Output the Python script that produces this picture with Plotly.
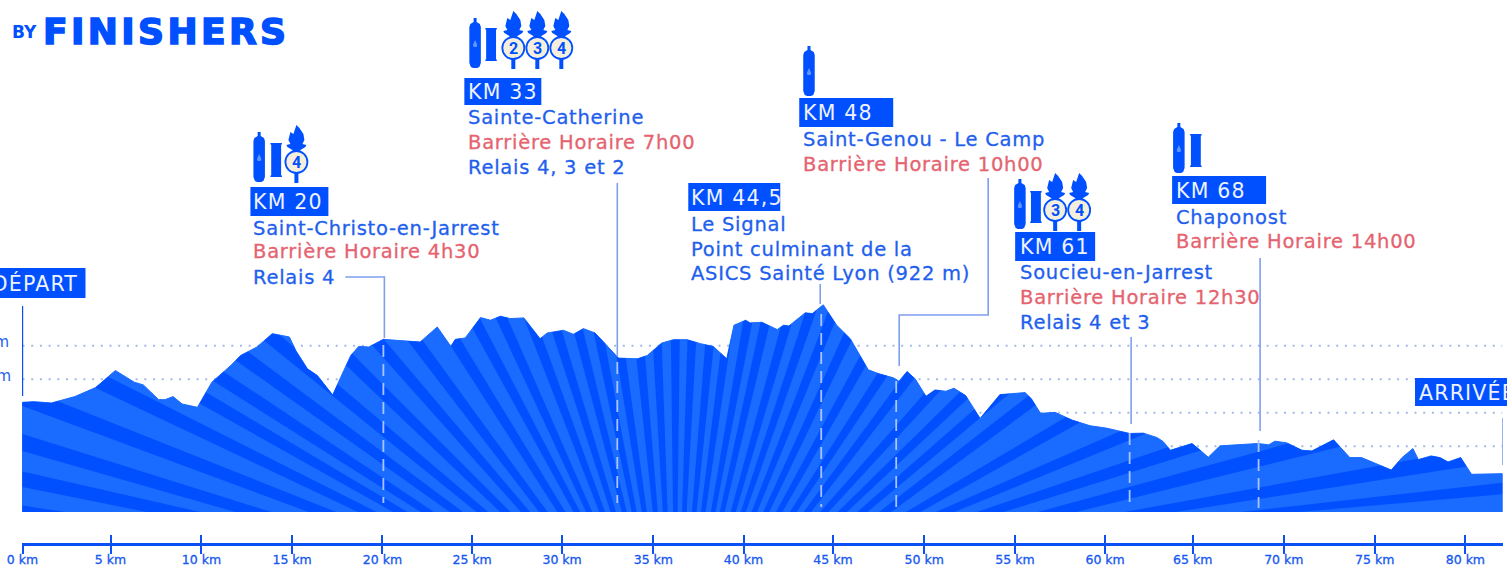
import numpy as np
import plotly.graph_objects as go

# ---------- data ----------
km = [0, .63, 1.6, 2.9, 4.05, 4.4, 5.15, 6.2, 6.7, 7.55, 7.9, 8.35, 8.85, 9.7, 10.5, 11.55, 12.1, 13.0, 13.85, 14.8,
      15.15, 15.8, 16.35, 17.2, 17.65, 18.2, 18.65, 19.2, 20.0, 20.9, 22.05, 23.0, 23.75, 24.0, 24.55, 25.4, 25.95,
      26.5, 27.05, 27.8, 28.7, 29.1, 30.0, 30.55, 31.1, 31.75, 32.4, 33.05, 34.1, 34.65, 35.45, 36.1, 36.85, 37.6,
      38.3, 39.05, 39.45, 40.1, 40.35, 41.0, 41.85, 42.2, 42.5, 43.4, 43.8, 44.4, 45.15, 45.9, 46.9, 47.5, 48.3,
      48.6, 49.05, 49.5, 50.1, 50.6, 51.2, 51.65, 52.3, 53.1, 54.2, 55.6, 55.95, 56.45, 57.25, 58.2, 59.2, 60.1,
      61.4, 62.15, 62.9, 63.25, 63.65, 64.85, 65.35, 65.75, 66.4, 68.5, 69.1, 69.45, 70.1, 70.95, 71.5, 72.7, 73.6,
      74.25, 75.9, 76.5, 77.1, 77.4, 78.1, 78.6, 79.05, 79.75, 80.35, 82.05]
elevation = [631, 633, 629, 648, 675, 691, 726, 691, 683, 639, 639, 648, 626, 616, 691, 741, 771, 796, 836, 826,
             786, 731, 711, 653, 706, 771, 798, 796, 819, 816, 811, 856, 798, 819, 823, 884, 876,
             888, 881, 883, 821, 838, 846, 834, 851, 838, 801, 763, 761, 771, 808, 818, 818, 806,
             798, 761, 861, 876, 868, 870, 848, 861, 859, 898, 896, 922, 861, 821, 728, 716, 704,
             694, 723, 701, 649, 668, 664, 673, 651, 583, 654, 660, 641, 598, 601, 578, 561, 554,
             538, 539, 526, 514, 488, 508, 486, 467, 501, 508, 504, 515, 510, 488, 486, 519, 466,
             466, 429, 466, 493, 460, 471, 466, 453, 466, 416, 418]
tick_km = [0, 4.88, 9.92, 14.95, 19.96, 24.93, 29.92, 34.98, 39.98, 44.94, 50, 55.03, 60.03, 64.89, 69.94, 74.98, 80.01]
tick_labels = [f"{k} km" for k in range(0, 85, 5)]
levels = [800, 700, 600, 500]
level_labels = ["800 m", "700 m", "600 m", "500 m"]

# dark rays of the background fan: foot on the baseline (km), lean from vertical (deg)
ray_foot = [.44, 8.37, 12.8, 16.63, 19.12, 20.95, 22.45, 24.06, 25.5, 26.77, 27.89, 28.88, 29.88, 30.74, 31.42, 32.14,
            32.76, 33.37, 33.92, 34.48, 35.09, 35.64, 36.2, 36.7, 37.25, 37.75, 38.3, 38.8, 39.41, 39.97, 40.58, 41.24,
            41.96, 42.74, 43.52, 44.46, 45.46, 46.57, 47.84, 49.39, 51.16, 53.66, 57.37, 62.53, 69.2]
ray_lean = [82, 77.9, 73.3, 69, 64, 60, 57, 54, 50.4, 45.7, 41, 36.8, 32, 28.1, 24.3, 20.5, 17.3, 14.2,
            11.3, 8.5, 5.4, 2.7, 0, -2.5, -5.2, -7.7, -10.3, -12.8, -15.8, -18.6, -21.6, -25, -29, -33,
            -37, -42, -46.2, -49.5, -52.8, -60, -67, -72, -75.4, -80.4, -84.3]

# ---------- picture scales ----------
W, H = 1507, 566
PX_KM, PX_M = 18.04, 0.335
def X(px): return (px - 22) / PX_KM
def Y(py): return 800 + (345.7 - py) / PX_M
L, R, T, B = 21.5, 1503, 0, 543
def PXP(px): return (px - L) / (R - L)
def PYP(py): return 1 - (py - T) / (B - T)
BASE = Y(512)

BLUE, DARK, LIGHT, TEXT, RED, PALE = "#0a50f5", "#0050ff", "#1a6bff", "#1f5fee", "#e5636f", "#7f9fee"
FONT = "DejaVu Sans"

# ---------- fan clipped to the profile ----------
poly = list(zip([km[0]] + km + [km[-1]], [BASE] + elevation + [BASE]))

def clip(points, f):
    out = []
    for i in range(len(points)):
        a, b = points[i], points[(i + 1) % len(points)]
        fa, fb = f(*a), f(*b)
        if fa >= 0:
            out.append(a)
        if (fa >= 0) != (fb >= 0):
            t = fa / (fa - fb)
            out.append((a[0] + t * (b[0] - a[0]), a[1] + t * (b[1] - a[1])))
    return out

fig = go.Figure()

for lv in levels:
    fig.add_trace(go.Scatter(x=[km[0], km[-1]], y=[lv, lv], mode="lines", hoverinfo="skip", showlegend=False,
                             line=dict(color="#a4b9e8", width=2, dash="2px,6.7px")))

fig.add_trace(go.Scatter(x=[p[0] for p in poly], y=[p[1] for p in poly], fill="toself", fillcolor=LIGHT,
                         mode="lines", line=dict(color=LIGHT, width=1), showlegend=False, name="Profil"))

feet = np.array(ray_foot)
gaps = np.gradient(feet)
k = PX_M / PX_KM
for foot, lean, gap in zip(ray_foot, ray_lean, gaps):
    half = 0.24 * gap
    tl, tr = np.tan(np.radians(lean + .7)), np.tan(np.radians(lean - .7))
    left = lambda x, y, f=foot - half, t=tl: x - (f - t * (y - BASE) * k)
    right = lambda x, y, f=foot + half, t=tr: (f - t * (y - BASE) * k) - x
    piece = clip(clip(poly, left), right)
    if len(piece) > 2:
        fig.add_trace(go.Scatter(x=[p[0] for p in piece] + [piece[0][0]], y=[p[1] for p in piece] + [piece[0][1]],
                                 fill="toself", fillcolor=DARK, mode="lines", line=dict(width=0, color=DARK),
                                 hoverinfo="skip", showlegend=False))

# invisible partner so the second axis (upper half of the ticks + labels) is drawn
fig.add_trace(go.Scatter(x=[0], y=[BASE], xaxis="x2", mode="markers", marker=dict(opacity=0), hoverinfo="skip",
                         showlegend=False))

shapes, annots = [], []

def line(pts, color=PALE, width=1.6, dash=None):
    d = "M" + " L".join(f"{X(a)},{Y(b)}" for a, b in pts)
    shapes.append(dict(type="path", path=d, xref="x", yref="y", line=dict(color=color, width=width, dash=dash)))

def text(px, py, s, color=TEXT, size=19.5, anchor="left", weight=400, family=FONT):
    annots.append(dict(x=PXP(px - (1 if anchor == "left" else 0)), y=PYP(py), xref="paper", yref="paper", text=s,
                       showarrow=False, xanchor=anchor, align=anchor, yanchor="middle",
                       font=dict(color=color, size=size, family=family, weight=weight), borderpad=0))

def box(x0, x1, y0, y1, s, tx, anchor="left"):
    shapes.append(dict(type="rect", xref="paper", yref="paper", x0=PXP(x0), x1=PXP(x1), y0=PYP(y1), y1=PYP(y0),
                       fillcolor=DARK, line=dict(width=0)))
    text(tx, (y0 + y1) / 2 + .5, s, color="#eef3ff", size=20.5, anchor=anchor)

def fillpath(pts, color=DARK):
    d = "M" + " L".join(f"{X(a)},{Y(b)}" for a, b in pts) + " Z"
    shapes.append(dict(type="path", path=d, xref="x", yref="y", fillcolor=color, line=dict(width=0)))

def bottle(x0, ytop):
    w, c = 11.5, x0 + 5.75
    fillpath([(c - 1.5, ytop), (c + 1.5, ytop), (c + 1.5, ytop + 4), (x0 + w - 1, ytop + 6), (x0 + w, ytop + 9),
              (x0 + w, ytop + 45), (x0 + w - 1.5, ytop + 49), (c + 2, ytop + 50), (c - 2, ytop + 50), (x0 + 1.5, ytop + 49),
              (x0, ytop + 45), (x0, ytop + 9), (x0 + 1, ytop + 6), (c - 1.5, ytop + 4)])
    fillpath([(c, ytop + 22), (c + 2.2, ytop + 27), (c + 1.5, ytop + 29), (c - 1.5, ytop + 29), (c - 2.2, ytop + 27)], "#5f95ff")

def filt(x0, y0, y1):
    fillpath([(x0, y0), (x0 + 11.5, y0), (x0 + 11.5, y0 + 1.5), (x0 + 10.7, y0 + 1.5), (x0 + 10.7, y1 - 1.5), (x0 + 11.5, y1 - 1.5),
              (x0 + 11.5, y1), (x0, y1), (x0, y1 - 1.5), (x0 + .8, y1 - 1.5), (x0 + .8, y0 + 1.5), (x0, y0 + 1.5)])

def torch(cx, ytop, n, r=11):
    fillpath([(cx, ytop), (cx + 3, ytop + 3), (cx + 7, ytop + 9), (cx + 8, ytop + 15), (cx + 6, ytop + 19),
              (cx + 10, ytop + 20), (cx + 9, ytop + 22), (cx + 4, ytop + 25), (cx + 2.5, ytop + 28),
              (cx - 2.5, ytop + 28), (cx - 4, ytop + 25), (cx - 9, ytop + 22), (cx - 10, ytop + 20), (cx - 6, ytop + 19),
              (cx - 8, ytop + 15), (cx - 6, ytop + 7), (cx - 3, ytop + 9)])
    fillpath([(cx - 2, ytop + 47), (cx + 2, ytop + 47), (cx + 2, ytop + 58), (cx - 2, ytop + 58)])
    shapes.append(dict(type="circle", xref="x", yref="y", x0=X(cx - r), x1=X(cx + r), y0=Y(ytop + 37 + r), y1=Y(ytop + 37 - r),
                       fillcolor="#f3efdc", line=dict(color=DARK, width=1.8)))
    text(cx, ytop + 37.5, str(n), color=DARK, size=16, anchor="center", weight=700, family="Roboto")

# leader lines
line([(22, 306), (22, 396)], color=BLUE, width=1.4)
line([(345, 277), (384, 277), (384, 338)])
line([(617, 183), (617, 356)])
line([(820, 284), (820, 304)])
line([(988, 178), (988, 315), (899, 315), (899, 366)])
line([(1131, 337), (1131, 424)])
line([(1260, 258), (1260, 431)])
line([(1503, 418), (1503, 465)])
# dashed drop lines inside the profile
for xp, y0, y1 in [(383, 345, 503), (617, 362, 503), (821, 314, 507), (896, 381, 507), (1129.5, 433, 508), (1258.5, 440, 508)]:
    line([(xp, y0), (xp, y1)], color="#a9c4ff", width=1.8, dash="12px,7px")

# callouts
box(250, 328, 187, 216, "KM 20", 253)
text(253, 228, "Saint-Christo-en-Jarrest"); text(253, 252, "Barrière Horaire 4h30", RED); text(253, 277, "Relais 4")
box(464, 541, 78, 105, "KM 33", 468)
text(468, 117, "Sainte-Catherine"); text(468, 142, "Barrière Horaire 7h00", RED); text(468, 167, "Relais 4, 3 et 2")
box(688, 780, 183, 211, "KM 44,5", 691)
text(691, 224, "Le Signal"); text(691, 249, "Point culminant de la"); text(691, 273, "ASICS Sainté Lyon (922 m)")
box(799, 893, 98, 127, "KM 48", 803)
text(803, 139, "Saint-Genou - Le Camp"); text(803, 164, "Barrière Horaire 10h00", RED)
box(1015, 1095, 232, 261, "KM 61", 1020)
text(1020, 272, "Soucieu-en-Jarrest"); text(1020, 297, "Barrière Horaire 12h30", RED); text(1020, 322, "Relais 4 et 3")
box(1172, 1266, 176, 204, "KM 68", 1176)
text(1176, 217, "Chaponost"); text(1176, 242, "Barrière Horaire 14h00", RED)
box(-6, 85, 268, 298, "DÉPART", 80, anchor="right")
box(1415, 1514, 378, 406, "ARRIVÉE", 1419)

# icons
bottle(253, 132); filt(270, 143, 177); torch(296, 125, 4)
bottle(469, 18); filt(485, 28, 61); torch(513, 11, 2); torch(537, 11, 3); torch(561, 11, 4)
bottle(803, 46)
bottle(1014, 179); filt(1030, 191, 223); torch(1055, 173, 3); torch(1079, 173, 4)
bottle(1173, 123); filt(1190, 134, 167)

# clipped elevation labels + logo
text(9, 342, level_labels[0], size=15, anchor="right")
text(11, 376, level_labels[1], size=15, anchor="right")
text(11, 32, "BY", color=DARK, size=17, weight=700)
text(43, 32, "FINISHERS", color=DARK, size=36, weight=700)

fig.update_layout(
    template="none",
    width=W, height=H, autosize=False, paper_bgcolor="white", plot_bgcolor="white", showlegend=False,
    margin=dict(l=L, r=W - R, t=T, b=H - B, pad=0),
    xaxis=dict(range=[X(L), X(R)], tickmode="array", tickvals=tick_km, ticks="outside", ticklen=8, showticklabels=False,
               tickwidth=2, tickcolor=BLUE, showline=True, linecolor=BLUE, linewidth=2.5, showgrid=False, zeroline=False,
               automargin=False, fixedrange=True),
    xaxis2=dict(range=[X(L), X(R)], overlaying="x", anchor="y", side="bottom", tickmode="array", tickvals=tick_km,
                ticktext=tick_labels, ticks="inside", ticklen=8, tickwidth=2, tickcolor=BLUE, showgrid=False,
                ticklabelstandoff=7, tickfont=dict(family=FONT, size=12.5, color="#1558f0"),
                zeroline=False, showline=False, automargin=False, fixedrange=True),
    yaxis=dict(range=[Y(B), Y(T)], visible=False, automargin=False, fixedrange=True),
    shapes=shapes, annotations=annots,
)

post = """
document.body.style.margin='0';document.documentElement.style.overflow='hidden';
function spread(){document.querySelectorAll('.annotation-text').forEach(function(t){
  var s=parseFloat(t.style.fontSize);
  if(s>30){t.style.letterSpacing='3.4px';t.style.stroke='#0050ff';t.style.strokeWidth='1.6px';}
  else if(s>20){t.style.letterSpacing='1.2px';}
  else if(s>18){t.style.letterSpacing='0.75px';t.style.stroke=t.style.fill;t.style.strokeWidth='0.3px';}
});
document.querySelectorAll('.xtick text, .x2tick text').forEach(function(t){t.style.stroke='#1558f0';t.style.strokeWidth='0.3px';});
}
spread();setTimeout(spread,60);
"""
fig.write_html("out.html", post_script=post, config=dict(displayModeBar=False))
